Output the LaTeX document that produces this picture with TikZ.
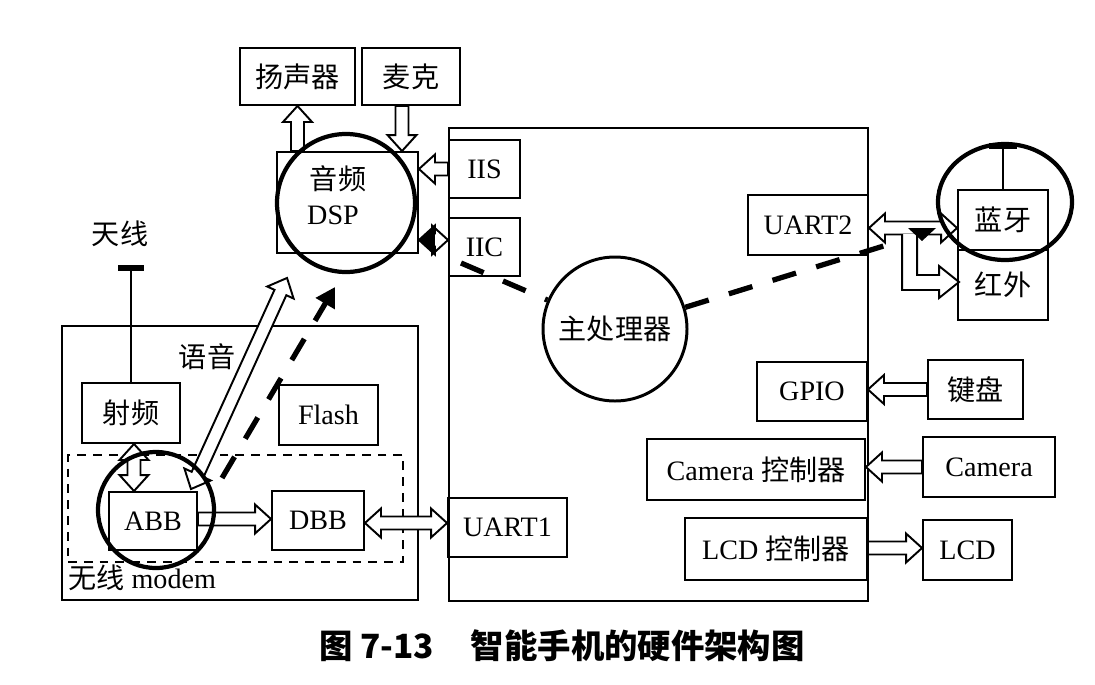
\documentclass[tikz,border=0pt]{standalone}
\usepackage{fontspec}
\setmainfont{Liberation Serif}
\newfontfamily\cjk{Noto Sans CJK SC}
\usetikzlibrary{calc,arrows.meta,shapes.geometric}
\newcommand\arS{0.13cm}
\newcommand\arW{0.29cm}
\newcommand\arH{0.32cm}
\tikzset{
  box/.style={draw, line width=1.1pt, inner sep=0pt, font=\fontsize{16}{19}\selectfont},
  sz/.style 2 args={minimum width=#1*0.02cm, minimum height=#2*0.02cm},
  ring/.style={draw, circle, line width=2.4pt, inner sep=0pt},
  hollow/.style={draw, line width=1.1pt, fill=white, line join=miter},
  thickdash/.style={line width=3pt, dash pattern=on 14pt off 12pt},
  lbl/.style={inner sep=0pt, font=\fontsize{16}{19}\selectfont}}
\newcommand\harr[2]{%
 \coordinate (hA) at (#1); \coordinate (hB) at (#2);
 \coordinate (hC) at ($(hB)!\arH!(hA)$);
 \draw[hollow] ($(hA)!\arS!90:(hB)$) -- ($(hC)!\arS!90:(hB)$) -- ($(hC)!\arW!90:(hB)$) -- (hB)
   -- ($(hC)!\arW!-90:(hB)$) -- ($(hC)!\arS!-90:(hB)$) -- ($(hA)!\arS!-90:(hB)$) -- cycle;}
\newcommand\dharr[2]{%
 \coordinate (hA) at (#1); \coordinate (hB) at (#2);
 \coordinate (hC0) at ($(hA)!\arH!(hB)$);
 \coordinate (hC1) at ($(hB)!\arH!(hA)$);
 \draw[hollow] (hA) -- ($(hC0)!\arW!90:(hB)$) -- ($(hC0)!\arS!90:(hB)$) -- ($(hC1)!\arS!90:(hB)$)
   -- ($(hC1)!\arW!90:(hB)$) -- (hB) -- ($(hC1)!\arW!-90:(hB)$) -- ($(hC1)!\arS!-90:(hB)$)
   -- ($(hC0)!\arS!-90:(hB)$) -- ($(hC0)!\arW!-90:(hB)$) -- cycle;}
\begin{document}
\begin{tikzpicture}[x=0.02cm,y=-0.02cm]
\useasboundingbox[fill=white] (0,0) rectangle (1095,684);

% boxes
\node[box, sz={115}{57}] (spk) at (297.5,76.5) {\cjk 扬声器};
\node[box, sz={98}{57}] (mic) at (411,76.5) {\cjk 麦克};
\node[box, sz={141}{101}] (dsp) at (347.5,202.5) {};
\node[lbl] (dspa) at (338,179) {\cjk 音频};
\node[lbl] (dspb) at (333,215) {DSP};
\node[box, sz={419}{473}] (main) at (658.5,364.5) {};
\node[box, sz={71}{58}] (iis) at (484.5,169) {IIS};
\node[box, sz={71}{58}] (iic) at (484.5,247) {IIC};
\node[draw, circle, line width=1.7pt, inner sep=0pt, minimum size=144*0.02cm,
      font=\fontsize{16}{19}\selectfont] (cpu) at (615,329) {\cjk 主处理器};
\node[box, sz={120}{60}] (uart2) at (808,225) {UART2};
\node[box, sz={90}{60}] (bt) at (1003,220) {\cjk 蓝牙};
\node[box, sz={90}{70}] (ir) at (1003,285) {\cjk 红外};
\node[box, sz={110}{59}] (gpio) at (812,391.5) {GPIO};
\node[box, sz={95}{59}] (kbd) at (975.5,389.5) {\cjk 键盘};
\node[box, sz={218}{61}] (camc) at (756,469.5) {Camera {\cjk 控制器}};
\node[box, sz={132}{60}] (cam) at (989,467) {Camera};
\node[box, sz={182}{62}] (lcdc) at (776,549) {LCD {\cjk 控制器}};
\node[box, sz={89}{60}] (lcd) at (967.5,550) {LCD};
\node[box, sz={119}{59}] (uart1) at (507.5,527.5) {UART1};
\node[box, sz={356}{274}] (modem) at (240,463) {};
\node[draw, dash pattern=on 5pt off 4pt, line width=1.1pt, sz={335}{107}] (bb) at (235.5,508.5) {};
\node[box, sz={98}{60}] (rf) at (131,413) {\cjk 射频};
\node[box, sz={99}{60}] (flash) at (328.5,415) {Flash};
\node[box, sz={88}{58}] (abb) at (153,521) {ABB};
\node[box, sz={92}{59}] (dbb) at (318,520.5) {DBB};

% labels
\node[lbl] (ant1lbl) at (120,234) {\cjk 天线};
\node[lbl] (voice) at (207,357) {\cjk 语音};
\node[lbl, anchor=west] (modemlbl) at (68,578) {{\cjk 无线} modem};
\node[inner sep=0pt, font=\cjk\bfseries\fontsize{19}{22}\selectfont] (cap) at (562,646)
  {图 7-13\hspace{1.1em}智能手机的硬件架构图};

% antennas
\coordinate (ant1top) at (131,268);
\draw[line width=1.1pt] (ant1top) -- (rf.north);
\draw[line width=3pt] ($(ant1top)+(-13,0)$) -- ($(ant1top)+(13,0)$);
\coordinate (ant2top) at (1003,146);
\draw[line width=1.1pt] (ant2top) -- (bt.north);
\draw[line width=3pt] ($(ant2top)+(-14,0)$) -- ($(ant2top)+(14,0)$);

% hollow arrows
\harr{dsp.north -| spk.south}{spk.south}
\harr{$(mic.south)+(-9,0)$}{$(mic.south |- dsp.north)+(-9,0)$}
\harr{iis.west}{iis.west -| dsp.east}
\dharr{$(iic.west -| dsp.east)+(0,-7)$}{$(iic.west)+(0,-7)$}
\fill (hA) -- ($(hC0)!\arW!90:(hB)$) -- ($(hC0)!\arW!-90:(hB)$) -- cycle;
\dharr{$(abb.north east)+(-7,-2)$}{$(dsp.south west)+(11,24)$}
\dharr{$(rf.south)+(3,0)$}{$(rf.south |- abb.north)+(3,0)$}
\harr{$(abb.east)+(0,-2)$}{$(dbb.west)+(0,-1.5)$}
\dharr{$(dbb.east)+(0,2.5)$}{$(dbb.east -| uart1.west)+(0,2.5)$}
\dharr{$(uart2.east)+(0,3)$}{$(uart2.east -| bt.west)+(0,3)$}
\coordinate (irtip) at ($(ir.west)+(2,-3)$);
\draw[hollow] ($(irtip)+(-57,-48)$) -- ($(irtip)+(-57,8)$) -- ($(irtip)+(-20,8)$) -- ($(irtip)+(-20,16)$)
  -- (irtip) -- ($(irtip)+(-20,-16)$) -- ($(irtip)+(-20,-7)$) -- ($(irtip)+(-42,-7)$) -- ($(irtip)+(-42,-48)$);
\coordinate (tri) at (922,228);
\fill ($(tri)+(-14,0)$) -- ($(tri)+(14,0)$) -- ($(tri)+(0,13)$) -- cycle;
\harr{kbd.west}{kbd.west -| gpio.east}
\harr{cam.west}{cam.west -| camc.east}
\harr{$(lcdc.east)+(0,-1)$}{$(lcdc.east -| lcd.west)+(0,-1)$}

% rings
\node[ring, minimum size=138*0.02cm] (dspring) at (346,203) {};
\node[ring, minimum size=116*0.02cm] (abbring) at (156,510) {};
\node[ring, ellipse, minimum width=134*0.02cm, minimum height=116*0.02cm] (btring) at (1005,202) {};

% dashed connections
\coordinate (iicd) at (461,263);
\coordinate (junc) at (903,240);
\draw[thickdash] (iicd) -- (cpu);
\draw[thickdash] (cpu) -- (junc);
\coordinate (vs) at (222,478);
\coordinate (vt) at (335,287);
\draw[thickdash, -{Triangle[length=11pt, width=12pt]}] (vs) -- (vt);
\end{tikzpicture}
\end{document}
